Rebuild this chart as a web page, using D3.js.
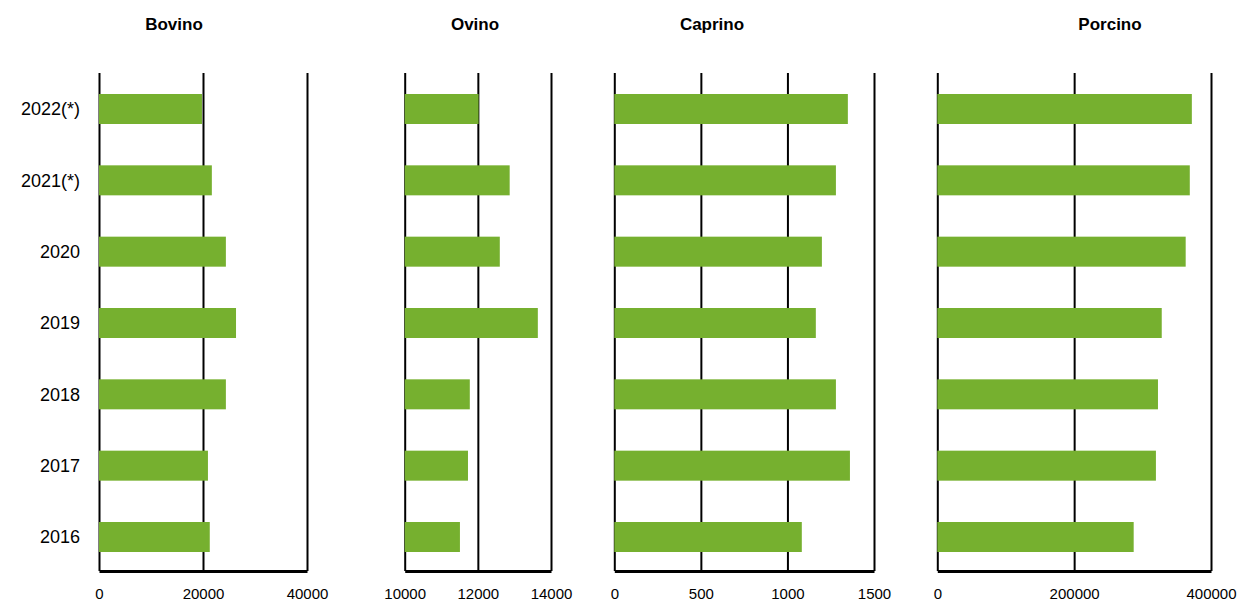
<!DOCTYPE html>
<html lang="en">
<head>
    <meta charset="UTF-8">
    <title>Macellazioni</title>
    <script src="https://cdn.jsdelivr.net/npm/d3@7"></script>
    <style>
        body { margin: 0; background: #fff; }
        text { font-family: "Liberation Sans", Arial, sans-serif; }
    </style>
</head>
<body>
    <svg width="1247" height="606"></svg>
<script>
    // years, top to bottom
    var years = ["2022(*)", "2021(*)", "2020", "2019", "2018", "2017", "2016"];

    var bovino  = [19800, 21700, 24400, 26350, 24400, 20950, 21300];
    var ovino   = [12020, 12870, 12600, 13640, 11780, 11730, 11510];
    var caprino = [1349, 1280, 1199, 1164, 1280, 1361, 1083];
    var porcino = [372000, 369000, 363000, 328000, 322500, 319500, 287000];

    var titles = ["Bovino", "Ovino", "Caprino", "Porcino"];
    var domains = [[0, 40000], [10000, 14000], [0, 1500], [0, 400000]];
    var tickSets = [[0, 20000, 40000], [10000, 12000, 14000], [0, 500, 1000, 1500], [0, 200000, 400000]];

    var series = [bovino, ovino, caprino, porcino];
    var ranges = [[99, 307], [404.7, 551], [614.3, 874], [937.3, 1211]];
    var titleX = [174, 475, 712, 1110];

    var plotTop = 73, plotBottom = 571;
    var barH = 30;
    var green = "#76b02f";

    var svg = d3.select("svg");

    var y = d3.scalePoint()
        .domain(years)
        .range([109, 537]);

    // year labels
    svg.append("g")
        .selectAll("text")
        .data(years)
        .join("text")
        .attr("x", 80)
        .attr("y", d => y(d))
        .attr("dy", "0.35em")
        .attr("text-anchor", "end")
        .attr("font-size", 18)
        .attr("fill", "#000")
        .text(d => d);

    series.forEach(function(vals, i) {
        var x = d3.scaleLinear().domain(domains[i]).range(ranges[i]);
        var g = svg.append("g");

        var ax = g.append("g")
            .attr("transform", "translate(0," + plotBottom + ")")
            .call(d3.axisBottom(x)
                .tickValues(tickSets[i])
                .tickSizeInner(-(plotBottom - plotTop))
                .tickSizeOuter(0)
                .tickPadding(17)
                .tickFormat(d3.format("d")));
        ax.selectAll("line").attr("stroke", "#000").attr("stroke-width", 2);
        ax.select(".domain").attr("stroke", "#000").attr("stroke-width", 3);
        ax.selectAll("text")
            .attr("font-size", 15)
            .attr("fill", "#000")
            .attr("font-family", "Liberation Sans, Arial, sans-serif");

        // bars sit above the grid lines
        g.append("g")
            .selectAll("rect")
            .data(vals)
            .join("rect")
            .attr("x", x(domains[i][0]))
            .attr("y", (d, j) => y(years[j]) - barH / 2)
            .attr("width", d => x(d) - x(domains[i][0]))
            .attr("height", barH)
            .attr("fill", green);

        svg.append("text")
            .attr("x", titleX[i])
            .attr("y", 30)
            .attr("text-anchor", "middle")
            .attr("font-size", 17)
            .attr("font-weight", "bold")
            .attr("fill", "#000")
            .text(titles[i]);
    });
</script>
</body>
</html>
